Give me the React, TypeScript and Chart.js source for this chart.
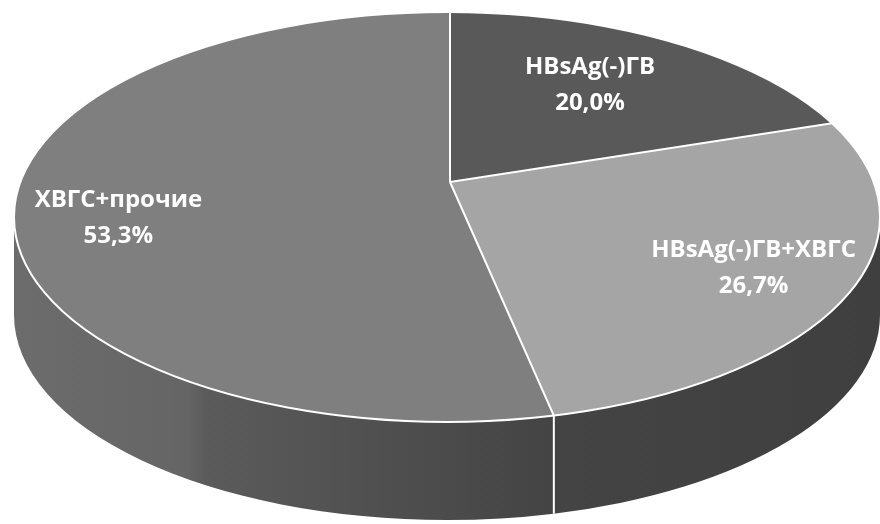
import { useEffect, useRef } from "react";
import { Chart, registerables } from "chart.js";

Chart.register(...registerables);

// Shares of diagnoses, in percent
const categories = ["HBsAg(-)ГВ", "HBsAg(-)ГВ+ХВГС", "ХВГС+прочие"];
const shares = [20.0, 26.7, 53.3];
const topColors = ["#595959", "#a5a5a5", "#7f7f7f"];

// Geometry of the tilted disc on screen
const W = 880;
const H = 524;
const CX = 447; // rim ellipse centre
const CY = 217;
const RX = 433;
const RY = 205;
const VX = 450; // where the slices meet (perspective centre)
const VY = 182;
const DEPTH = 98;
// label anchor factors along each slice's mid-angle (x, y)
const LABEL_POS: [number, number][] = [
  [0.55, 0.585],
  [0.81, 0.84],
  [0.77, 1.7],
];
const FONT = "bold 24px 'Open Sans', 'Noto Sans', sans-serif";
const LINE_GAP = 36;

const fmt = (v: number) => v.toFixed(1).replace(".", ",") + "%";

// where a slice boundary (angle theta) meets the rim; returns rim parameter angle
function rimAngle(theta: number): number {
  const px = (VX - CX) / RX;
  const py = (VY - CY) / RY;
  const dx = Math.cos(theta);
  const dy = Math.sin(theta);
  const pd = px * dx + py * dy;
  const t = -pd + Math.sqrt(pd * pd - (px * px + py * py) + 1);
  return Math.atan2(py + t * dy, px + t * dx);
}
const rimPoint = (phi: number) => [CX + RX * Math.cos(phi), CY + RY * Math.sin(phi)];

function sliceRim(startAngle: number, endAngle: number): [number, number] {
  const a = rimAngle(startAngle);
  let b = rimAngle(endAngle);
  while (b <= a) b += 2 * Math.PI;
  return [a, b];
}

const tiltPlugin = {
  id: "tilt3d",
  beforeDatasetsDraw(chart: any) {
    const ctx: CanvasRenderingContext2D = chart.ctx;
    const arcs = chart.getDatasetMeta(0).data;

    // side wall of the disc (front half only)
    const grad = ctx.createLinearGradient(CX - RX, 0, CX + RX, 0);
    grad.addColorStop(0, "#6c6c6c");
    grad.addColorStop(0.2, "#656565");
    grad.addColorStop(0.22, "#5b5b5b");
    grad.addColorStop(0.5, "#4b4b4b");
    grad.addColorStop(0.62, "#444444");
    grad.addColorStop(1, "#3f3f3f");
    ctx.save();
    ctx.fillStyle = grad;
    for (const arc of arcs) {
      const { startAngle, endAngle } = arc.getProps(["startAngle", "endAngle"], true);
      const [s, e] = sliceRim(startAngle, endAngle);
      for (const shift of [-2 * Math.PI, 0, 2 * Math.PI]) {
        const a = Math.max(s + shift, 0);
        const b = Math.min(e + shift, Math.PI);
        if (b <= a) continue;
        ctx.beginPath();
        ctx.ellipse(CX, CY, RX, RY, 0, a, b);
        ctx.lineTo(CX + RX * Math.cos(b), CY + DEPTH + RY * Math.sin(b));
        ctx.ellipse(CX, CY + DEPTH, RX, RY, 0, b, a, true);
        ctx.closePath();
        ctx.fill();
      }
    }
    ctx.restore();

    // clip to the rim and map the library's circular slices onto the tilted top
    const { x, y, outerRadius } = arcs[0].getProps(["x", "y", "outerRadius"], true);
    const k = 1.4;
    ctx.save();
    ctx.beginPath();
    ctx.ellipse(CX, CY, RX, RY, 0, 0, 2 * Math.PI);
    ctx.clip();
    ctx.translate(VX, VY);
    ctx.scale((k * RX) / outerRadius, (k * RY) / outerRadius);
    ctx.translate(-x, -y);
  },
  afterDatasetsDraw(chart: any) {
    const ctx: CanvasRenderingContext2D = chart.ctx;
    ctx.restore();
    const arcs = chart.getDatasetMeta(0).data;

    ctx.save();
    ctx.strokeStyle = "#ffffff";
    ctx.lineWidth = 2;
    ctx.lineJoin = "round";
    ctx.beginPath();
    ctx.ellipse(CX, CY, RX, RY, 0, 0, 2 * Math.PI);
    ctx.stroke();
    for (const arc of arcs) {
      const { startAngle } = arc.getProps(["startAngle"], true);
      let phi = rimAngle(startAngle);
      const [px, py] = rimPoint(phi);
      ctx.beginPath();
      ctx.moveTo(VX, VY);
      ctx.lineTo(px, py);
      ctx.stroke();
      // seam on the side wall where a slice boundary faces the viewer
      phi = ((phi % (2 * Math.PI)) + 2 * Math.PI) % (2 * Math.PI);
      if (phi > 0.01 && phi < Math.PI - 0.01) {
        ctx.beginPath();
        ctx.moveTo(px, py);
        ctx.lineTo(px, py + DEPTH);
        ctx.stroke();
      }
    }

    // data labels
    ctx.fillStyle = "#ffffff";
    ctx.font = FONT;
    ctx.textAlign = "center";
    ctx.textBaseline = "middle";
    arcs.forEach((arc: any, i: number) => {
      const { startAngle, endAngle } = arc.getProps(["startAngle", "endAngle"], true);
      const mid = (startAngle + endAngle) / 2;
      const [fx, fy] = LABEL_POS[i];
      const lx = VX + fx * RX * Math.cos(mid);
      const ly = VY + fy * RY * Math.sin(mid);
      ctx.fillText(categories[i], lx, ly - LINE_GAP / 2);
      ctx.fillText(fmt(shares[i]), lx, ly + LINE_GAP / 2);
    });
    ctx.restore();
  },
};

export default function App() {
  const canvasRef = useRef<HTMLCanvasElement | null>(null);

  useEffect(() => {
    document.body.style.margin = "0";
    const canvas = canvasRef.current;
    if (!canvas) return;
    const chart = new Chart(canvas, {
      type: "pie",
      data: {
        labels: categories,
        datasets: [
          {
            data: shares,
            backgroundColor: topColors,
            borderWidth: 0,
            clip: false as any,
          },
        ],
      },
      options: {
        animation: false,
        responsive: false,
        events: [],
        layout: { padding: 0 },
        plugins: {
          legend: { display: false },
          tooltip: { enabled: false },
        },
      },
      plugins: [tiltPlugin],
    });
    return () => chart.destroy();
  }, []);

  return (
    <div style={{ width: W, height: H, background: "#ffffff" }}>
      <canvas ref={canvasRef} width={W} height={H} style={{ display: "block" }} />
    </div>
  );
}
